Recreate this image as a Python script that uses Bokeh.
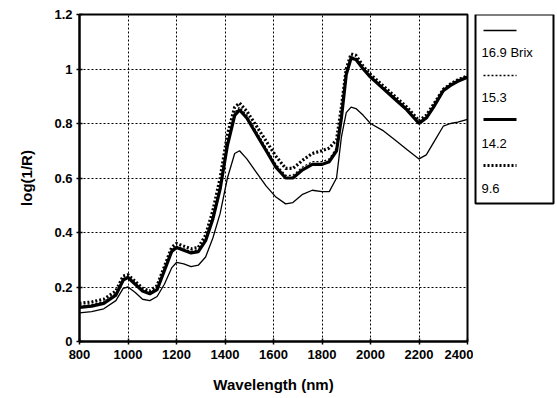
from bokeh.plotting import figure
from bokeh.layouts import row
from bokeh.models import Range1d, FixedTicker
from bokeh.core.properties import value
from bokeh.embed import file_html
from bokeh.resources import INLINE

wavelength = [800, 850, 900, 950, 980, 1000, 1030, 1060, 1090, 1120, 1150, 1180, 1200,
              1230, 1260, 1290, 1320, 1350, 1380, 1410, 1440, 1460, 1490, 1530, 1570,
              1610, 1650, 1680, 1720, 1760, 1800, 1830, 1860, 1880, 1900, 1920, 1940,
              1970, 2000, 2050, 2100, 2150, 2200, 2230, 2260, 2300, 2330, 2360, 2400]

brix_16_9 = [0.105, 0.11, 0.12, 0.15, 0.195, 0.20, 0.18, 0.155, 0.15, 0.165, 0.21, 0.27, 0.29,
             0.285, 0.275, 0.28, 0.31, 0.38, 0.47, 0.60, 0.69, 0.70, 0.67, 0.62, 0.57,
             0.53, 0.505, 0.51, 0.54, 0.555, 0.55, 0.55, 0.60, 0.75, 0.84, 0.86, 0.855,
             0.83, 0.80, 0.775, 0.74, 0.705, 0.67, 0.685, 0.73, 0.79, 0.80, 0.805, 0.815]

brix_15_3 = [0.13, 0.135, 0.145, 0.175, 0.23, 0.24, 0.215, 0.19, 0.18, 0.195, 0.265, 0.335, 0.35,
             0.34, 0.33, 0.335, 0.375, 0.46, 0.57, 0.73, 0.84, 0.86, 0.83, 0.77, 0.71,
             0.65, 0.61, 0.61, 0.64, 0.66, 0.66, 0.67, 0.71, 0.83, 0.99, 1.045, 1.04,
             1.005, 0.975, 0.935, 0.895, 0.855, 0.805, 0.825, 0.865, 0.925, 0.945, 0.96, 0.975]

brix_14_2 = [0.125, 0.13, 0.14, 0.17, 0.225, 0.235, 0.21, 0.185, 0.175, 0.19, 0.26, 0.33, 0.345,
             0.335, 0.325, 0.33, 0.37, 0.45, 0.56, 0.72, 0.83, 0.85, 0.82, 0.76, 0.70,
             0.64, 0.60, 0.60, 0.63, 0.65, 0.65, 0.66, 0.70, 0.82, 0.98, 1.04, 1.035,
             1.0, 0.97, 0.93, 0.89, 0.85, 0.80, 0.82, 0.86, 0.92, 0.94, 0.955, 0.97]

brix_9_6 = [0.14, 0.145, 0.155, 0.185, 0.24, 0.245, 0.22, 0.195, 0.185, 0.205, 0.275, 0.345, 0.36,
            0.35, 0.34, 0.345, 0.39, 0.48, 0.60, 0.76, 0.86, 0.875, 0.845, 0.79, 0.735,
            0.68, 0.635, 0.635, 0.665, 0.69, 0.70, 0.71, 0.74, 0.86, 1.0, 1.055, 1.05,
            1.01, 0.98, 0.94, 0.90, 0.86, 0.81, 0.83, 0.87, 0.925, 0.945, 0.96, 0.975]

series_labels = ["16.9 Brix", "15.3", "14.2", "9.6"]
x_ticks = [800, 1000, 1200, 1400, 1600, 1800, 2000, 2200, 2400]
y_ticks = [0, 0.2, 0.4, 0.6, 0.8, 1.0, 1.2]
y_tick_labels = ["0", "0.2", "0.4", "0.6", "0.8", "1", "1.2"]

FONT = "Liberation Sans"
H = 398
TOP, BOTTOM = 14, 57

p = figure(width=473, height=H, output_backend="svg", toolbar_location=None,
           x_range=Range1d(800, 2400), y_range=Range1d(0, 1.2),
           min_border_left=79, min_border_right=6, min_border_top=TOP, min_border_bottom=BOTTOM)
p.background_fill_color = "white"
p.border_fill_color = "white"
p.outline_line_color = "black"
p.outline_line_width = 2

styles = [
    dict(line_width=1.3),
    dict(line_width=1.3, line_dash="2 2"),
    dict(line_width=3.2),
    dict(line_width=3.2, line_dash="2 2"),
]
series = [brix_16_9, brix_15_3, brix_14_2, brix_9_6]
for vals, st in zip(series, styles):
    p.line(wavelength, vals, line_color="black", **st)

p.xaxis.ticker = FixedTicker(ticks=x_ticks)
p.yaxis.ticker = FixedTicker(ticks=y_ticks)
p.yaxis.major_label_overrides = {t: l for t, l in zip(y_ticks, y_tick_labels)}
p.xaxis.axis_label = "Wavelength (nm)"
p.yaxis.axis_label = "log(1/R)"
for ax in (p.xaxis, p.yaxis):
    ax.axis_line_width = 2
    ax.axis_line_color = "black"
    ax.major_tick_in = 3
    ax.major_tick_out = 3
    ax.major_tick_line_width = 1.5
    ax.minor_tick_line_color = None
    ax.major_label_text_font = FONT
    ax.major_label_text_font_size = "13px"
    ax.major_label_text_font_style = "bold"
    ax.major_label_text_color = "black"
    ax.axis_label_text_font = FONT
    ax.axis_label_text_font_size = "15px"
    ax.axis_label_text_font_style = "bold"
    ax.axis_label_text_color = "black"
p.xaxis.major_label_standoff = 5
p.yaxis.major_label_standoff = 4
p.xaxis.axis_label_standoff = 14
p.yaxis.axis_label_standoff = 16

p.grid.grid_line_color = "black"
p.grid.grid_line_dash = "2 2"
p.grid.grid_line_width = 1

# legend panel: frame spans same vertical pixels as main plot (page y 14..341)
lg = figure(width=84, height=H, output_backend="svg", toolbar_location=None,
            x_range=Range1d(0, 84), y_range=Range1d(H - BOTTOM, TOP),
            min_border_left=0, min_border_right=0,
            min_border_top=TOP, min_border_bottom=BOTTOM)
lg.axis.visible = False
lg.grid.visible = False
lg.outline_line_color = None
lg.quad(left=[2], right=[80], top=[14], bottom=[203], fill_color="white",
        line_color="black", line_width=2)
line_y = [30, 75, 119, 165]
label_y = [52, 97, 143, 188]
for ly, st in zip(line_y, styles):
    lg.line([10, 43], [ly, ly], line_color="black", **st)
lg.text(x=[8] * 4, y=label_y, text=series_labels, text_font=value(FONT),
        text_font_size="13px", text_baseline="middle",
        text_align="left", text_color="black")

layout = row(p, lg)
open("out.html", "w").write(file_html(layout, INLINE))
